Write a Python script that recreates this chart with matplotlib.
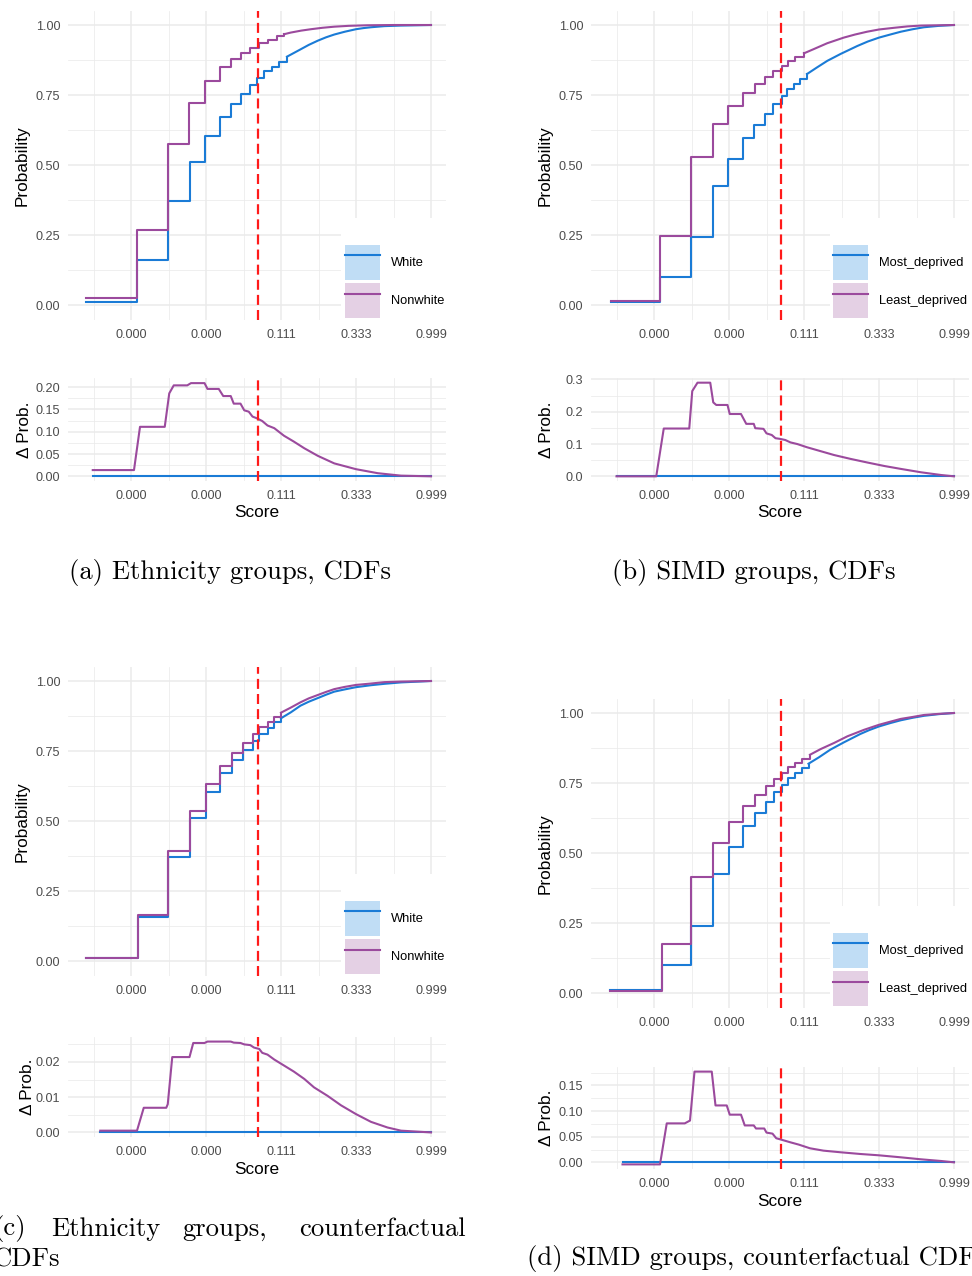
import matplotlib
matplotlib.use("Agg")
import matplotlib.pyplot as plt
from matplotlib.patches import Patch, Rectangle
from matplotlib.lines import Line2D

plt.rcParams['font.family'] = ['Liberation Sans', 'DejaVu Sans']

W, H = 972, 1276

BLUE = '#1a7bd6'
PURPLE = '#9b4a9d'
BLUE_FILL = '#c0ddf5'
PURPLE_FILL = '#e4d0e4'
RED = '#ff1a1a'
GRID = '#EBEBEB'

# x axis is the (transformed) score scale, ticks at 0..4
score_ticks = [0, 1, 2, 3, 4]
score_labels = ['0.000', '0.000', '0.111', '0.333', '0.999']
threshold = 1.69
smooth_from = 2.0   # beyond this the empirical CDFs look continuous

cdf_ticks = [0, 0.25, 0.5, 0.75, 1.0]
cdf_labels = ['0.00', '0.25', '0.50', '0.75', '1.00']

# ---- (a) Ethnicity, CDFs
a_white_x = [-0.60, 0.08, 0.49, 0.78, 0.98, 1.18, 1.33, 1.47, 1.59, 1.68, 1.77, 1.88, 1.97, 2.08,
             2.17, 2.26, 2.37, 2.49, 2.60, 2.71, 2.85, 3.0, 3.1, 3.2, 3.38, 3.6, 3.8, 4.0]
a_white_y = [0.013, 0.16, 0.37, 0.51, 0.605, 0.67, 0.717, 0.754, 0.786, 0.812, 0.835, 0.851, 0.869, 0.887,
             0.90, 0.913, 0.929, 0.944, 0.956, 0.966, 0.976, 0.985, 0.989, 0.992, 0.996, 0.998, 0.999, 1.0]
a_nonwhite_x = [-0.60, 0.08, 0.49, 0.77, 0.98, 1.18, 1.33, 1.47, 1.59, 1.71, 1.82, 1.95, 2.04, 2.13,
                2.27, 2.40, 2.55, 2.71, 2.9, 3.15, 3.5, 4.0]
a_nonwhite_y = [0.025, 0.269, 0.574, 0.72, 0.80, 0.849, 0.88, 0.901, 0.919, 0.935, 0.946, 0.961, 0.967, 0.973,
                0.980, 0.985, 0.990, 0.994, 0.997, 0.999, 1.0, 1.0]
a_delta_x = [-0.51, 0.04, 0.12, 0.45, 0.51, 0.57, 0.75, 0.80, 0.98, 1.02, 1.17, 1.23, 1.33, 1.37, 1.46,
             1.51, 1.57, 1.62, 1.68, 1.75, 1.82, 1.91, 2.04, 2.17, 2.31, 2.49, 2.71, 3.0, 3.29, 3.60, 4.0]
a_delta_y = [0.014, 0.014, 0.111, 0.111, 0.186, 0.204, 0.204, 0.209, 0.209, 0.196, 0.196, 0.18, 0.18, 0.163, 0.163,
             0.148, 0.145, 0.134, 0.130, 0.124, 0.114, 0.108, 0.091, 0.078, 0.063, 0.046, 0.029, 0.016, 0.007, 0.0015, 0.0]

# ---- (b) SIMD, CDFs
b_most_x = [-0.58, 0.085, 0.49, 0.78, 0.99, 1.19, 1.33, 1.48, 1.59, 1.70, 1.77, 1.86, 1.95, 2.04,
            2.17, 2.31, 2.49, 2.71, 2.85, 3.0, 3.15, 3.29, 3.45, 3.60, 3.8, 4.0]
b_most_y = [0.013, 0.10, 0.243, 0.427, 0.523, 0.598, 0.644, 0.684, 0.719, 0.747, 0.770, 0.79, 0.807, 0.825,
            0.848, 0.872, 0.897, 0.925, 0.941, 0.955, 0.966, 0.976, 0.985, 0.992, 0.997, 1.0]
b_least_x = [-0.58, 0.085, 0.49, 0.78, 0.99, 1.19, 1.35, 1.48, 1.59, 1.70, 1.79, 1.88, 2.0, 2.13,
             2.31, 2.42, 2.53, 2.68, 2.84, 3.0, 3.2, 3.38, 3.56, 4.0]
b_least_y = [0.015, 0.247, 0.529, 0.646, 0.711, 0.759, 0.791, 0.815, 0.836, 0.854, 0.872, 0.885, 0.899, 0.914,
             0.935, 0.945, 0.955, 0.966, 0.976, 0.984, 0.990, 0.995, 0.998, 1.0]
b_delta_x = [-0.50, 0.03, 0.13, 0.47, 0.51, 0.58, 0.75, 0.79, 0.83, 0.98, 1.01, 1.16, 1.23, 1.33, 1.35, 1.46,
             1.50, 1.57, 1.62, 1.68, 1.75, 1.82, 1.91, 2.04, 2.22, 2.40, 2.62, 2.84, 3.07, 3.29, 3.56, 3.83, 4.0]
b_delta_y = [0.0, 0.0, 0.148, 0.148, 0.264, 0.29, 0.29, 0.229, 0.221, 0.221, 0.193, 0.193, 0.1625, 0.1625, 0.149, 0.147,
             0.133, 0.128, 0.118, 0.116, 0.1125, 0.105, 0.10, 0.09, 0.078, 0.066, 0.054, 0.043, 0.032, 0.023, 0.0125, 0.004, 0.0]

# ---- (c) Ethnicity, counterfactual CDFs
c_white_x = [-0.60, 0.09, 0.49, 0.78, 1.0, 1.19, 1.34, 1.49, 1.62, 1.71, 1.82, 1.91, 2.0, 2.13, 2.26,
             2.37, 2.49, 2.60, 2.71, 2.85, 3.0, 3.2, 3.38, 3.6, 4.0]
c_white_y = [0.012, 0.159, 0.372, 0.511, 0.605, 0.671, 0.717, 0.754, 0.786, 0.811, 0.834, 0.852, 0.867, 0.888, 0.912,
             0.926, 0.939, 0.951, 0.962, 0.970, 0.978, 0.985, 0.990, 0.995, 1.0]
c_nonwhite_x = [-0.60, 0.09, 0.49, 0.78, 1.0, 1.19, 1.34, 1.49, 1.62, 1.71, 1.82, 1.91, 2.0, 2.13, 2.26,
                2.37, 2.49, 2.60, 2.71, 2.85, 3.0, 3.2, 3.38, 3.6, 4.0]
c_nonwhite_y = [0.012, 0.166, 0.392, 0.537, 0.631, 0.697, 0.742, 0.779, 0.811, 0.835, 0.855, 0.873, 0.887, 0.905, 0.924,
                0.938, 0.950, 0.961, 0.971, 0.979, 0.986, 0.991, 0.996, 0.998, 1.0]
c_delta_x = [-0.41, 0.08, 0.17, 0.47, 0.49, 0.55, 0.78, 0.83, 0.98, 1.02, 1.33, 1.37, 1.46, 1.51, 1.59, 1.64,
             1.71, 1.75, 1.82, 1.91, 2.04, 2.17, 2.31, 2.44, 2.62, 2.80, 3.0, 3.20, 3.42, 3.60, 4.0]
c_delta_y = [0.0005, 0.0005, 0.007, 0.007, 0.008, 0.0214, 0.0214, 0.0254, 0.0254, 0.0258, 0.0258, 0.0255, 0.0254, 0.025,
             0.0248, 0.0241, 0.0237, 0.0226, 0.0221, 0.0207, 0.019, 0.0173, 0.0152, 0.0128, 0.0104, 0.0077, 0.0052,
             0.003, 0.0014, 0.0005, 0.0]

# ---- (d) SIMD, counterfactual CDFs
d_most_x = [-0.59, 0.10, 0.49, 0.79, 1.0, 1.19, 1.34, 1.49, 1.60, 1.71, 1.78, 1.88, 1.97, 2.06, 2.20,
            2.35, 2.53, 2.64, 2.75, 2.87, 3.0, 3.15, 3.29, 3.45, 3.60, 3.8, 4.0]
d_most_y = [0.012, 0.099, 0.238, 0.425, 0.52, 0.595, 0.642, 0.681, 0.717, 0.744, 0.768, 0.786, 0.804, 0.819, 0.842,
            0.869, 0.895, 0.910, 0.925, 0.939, 0.952, 0.964, 0.974, 0.983, 0.990, 0.996, 1.0]
d_least_x = [-0.59, 0.10, 0.49, 0.79, 1.0, 1.19, 1.35, 1.49, 1.60, 1.71, 1.79, 1.88, 1.97, 2.08, 2.22,
             2.40, 2.58, 2.80, 3.0, 3.15, 3.29, 3.45, 3.60, 3.8, 4.0]
d_least_y = [0.008, 0.175, 0.414, 0.536, 0.612, 0.667, 0.707, 0.738, 0.764, 0.786, 0.806, 0.821, 0.837, 0.851, 0.871,
             0.893, 0.917, 0.940, 0.958, 0.969, 0.979, 0.986, 0.993, 0.997, 1.0]
d_delta_x = [-0.42, 0.08, 0.17, 0.41, 0.48, 0.54, 0.77, 0.82, 0.97, 1.01, 1.16, 1.21, 1.33, 1.36, 1.47,
             1.50, 1.58, 1.63, 1.71, 1.82, 1.93, 2.08, 2.26, 2.49, 2.75, 3.0, 3.29, 3.56, 3.83, 4.0]
d_delta_y = [-0.004, -0.004, 0.076, 0.076, 0.0815, 0.177, 0.177, 0.111, 0.111, 0.093, 0.093, 0.072, 0.072, 0.066, 0.066,
             0.058, 0.056, 0.047, 0.0437, 0.039, 0.0346, 0.0274, 0.0228, 0.0196, 0.0163, 0.0137, 0.0098, 0.0059, 0.0026, 0.0]

eth_labels = ['White', 'Nonwhite']
simd_labels = ['Most_deprived', 'Least_deprived']

fig = plt.figure(figsize=(W / 100, H / 100), dpi=100)


def px_axes(x0, y0, x1, y1):
    return fig.add_axes([x0 / W, 1 - y1 / H, (x1 - x0) / W, (y1 - y0) / H])


def style(ax, yticks, ylabels, ylim):
    ax.set_xticks(score_ticks)
    ax.set_xticklabels(score_labels)
    ax.set_xticks([-0.5, 0.5, 1.5, 2.5, 3.5], minor=True)
    ax.set_yticks(yticks)
    ax.set_yticklabels(ylabels)
    step = yticks[1] - yticks[0]
    ax.set_yticks([t + step / 2 for t in yticks if t + step / 2 < ylim[1]], minor=True)
    ax.set_xlim(-0.84, 4.2)
    ax.set_ylim(*ylim)
    ax.grid(which='major', color=GRID, lw=1.1)
    ax.grid(which='minor', color=GRID, lw=0.55)
    ax.set_axisbelow(True)
    for s in ax.spines.values():
        s.set_visible(False)
    ax.tick_params(which='both', length=0, labelsize=9.1, labelcolor='#4D4D4D')
    ax.tick_params(axis='y', pad=5.5)
    ax.tick_params(axis='x', pad=6.2)
    ax.axvline(threshold, color=RED, lw=1.6, dashes=(4.5, 2.3), zorder=3)


def plot_cdf(ax, xs, ys, color):
    n = sum(1 for v in xs if v < smooth_from)
    ax.plot(xs[:n + 1], ys[:n + 1], drawstyle='steps-post', color=color, lw=1.5)
    ax.plot(xs[n:], ys[n:], color=color, lw=1.5)


def cdf_panel(box, s1, s2, labels):
    ax = px_axes(*box)
    style(ax, cdf_ticks, cdf_labels, (-0.053, 1.05))
    plot_cdf(ax, s1[0], s1[1], BLUE)
    plot_cdf(ax, s2[0], s2[1], PURPLE)
    ax.set_ylabel('Probability', fontsize=12.4, color='black')
    ax.yaxis.set_label_coords(-0.122, 0.5)
    ax.yaxis.label.set_va('center')
    handles = [(Patch(facecolor=BLUE_FILL, edgecolor='none'), Line2D([], [], color=BLUE, lw=1.5)),
               (Patch(facecolor=PURPLE_FILL, edgecolor='none'), Line2D([], [], color=PURPLE, lw=1.5))]
    leg = ax.legend(handles, labels, loc='lower right', bbox_to_anchor=(1, 0), borderaxespad=0,
                    frameon=False, fontsize=9.3, handlelength=2.7, handleheight=3.8,
                    handletextpad=0.85, labelspacing=0.23, borderpad=0.15)
    return ax, leg


def delta_panel(box, dx, dy, yticks, ylabels, ylim, label_x):
    ax = px_axes(*box)
    style(ax, yticks, ylabels, ylim)
    ax.plot([dx[0], dx[-1]], [0, 0], color=BLUE, lw=1.5)
    ax.plot(dx, dy, color=PURPLE, lw=1.5)
    ax.set_ylabel('Δ Prob.', fontsize=12.4, color='black')
    ax.yaxis.set_label_coords(label_x, 0.5)
    ax.yaxis.label.set_va('center')
    ax.set_xlabel('Score', fontsize=12.4, color='black')
    ax.xaxis.set_label_coords(0.5, -32 / (box[3] - box[1]))
    ax.xaxis.label.set_va('center')
    return ax


legends = []
legends.append(cdf_panel((68, 11, 446, 320), (a_white_x, a_white_y), (a_nonwhite_x, a_nonwhite_y), eth_labels))
delta_panel((68, 378, 446, 481), a_delta_x, a_delta_y, [0, 0.05, 0.10, 0.15, 0.20],
            ['0.00', '0.05', '0.10', '0.15', '0.20'], (-0.0105, 0.2205), -0.116)

legends.append(cdf_panel((591, 11, 969, 320), (b_most_x, b_most_y), (b_least_x, b_least_y), simd_labels))
delta_panel((591, 378, 969, 481), b_delta_x, b_delta_y, [0, 0.1, 0.2, 0.3],
            ['0.0', '0.1', '0.2', '0.3'], (-0.0145, 0.3045), -0.119)

legends.append(cdf_panel((68, 667, 446, 976), (c_white_x, c_white_y), (c_nonwhite_x, c_nonwhite_y), eth_labels))
delta_panel((68, 1037, 446, 1137), c_delta_x, c_delta_y, [0, 0.01, 0.02],
            ['0.00', '0.01', '0.02'], (-0.0013, 0.0271), -0.106)

legends.append(cdf_panel((591, 699, 969, 1008), (d_most_x, d_most_y), (d_least_x, d_least_y), simd_labels))
delta_panel((591, 1067, 969, 1169), d_delta_x, d_delta_y, [0, 0.05, 0.10, 0.15],
            ['0.00', '0.05', '0.10', '0.15'], (-0.013, 0.186), -0.119)

# white legend background, hiding the grid like ggplot's inside legend
fig.canvas.draw()
for ax, leg in legends:
    bb = leg.get_window_extent().transformed(ax.transAxes.inverted())
    top = bb.y1 + 25 / 309
    ax.add_patch(Rectangle((bb.x0 - 0.004, 0), 1.01 - bb.x0, top, transform=ax.transAxes,
                           facecolor='white', edgecolor='none', zorder=1, clip_on=False))

cap = dict(family=['cmr10', 'DejaVu Serif'], fontsize=19.2, color='black', va='center')
fig.text(230 / W, 1 - 573 / H, '(a) Ethnicity groups, CDFs', ha='center', **cap)
fig.text(754 / W, 1 - 573 / H, '(b) SIMD groups, CDFs', ha='center', **cap)
fig.text(10 / W, 1 - 1229 / H, '(c)', ha='center', **cap)
fig.text(105.5 / W, 1 - 1229 / H, 'Ethnicity', ha='center', **cap)
fig.text(225 / W, 1 - 1229 / H, 'groups,', ha='center', **cap)
fig.text(466 / W, 1 - 1229 / H, 'counterfactual', ha='right', **cap)
fig.text(60 / W, 1 - 1260 / H, 'CDFs', ha='right', **cap)
fig.text(527 / W, 1 - 1258 / H, '(d) SIMD groups, counterfactual CDFs', ha='left', **cap)

fig.savefig('out.png', dpi=100)
